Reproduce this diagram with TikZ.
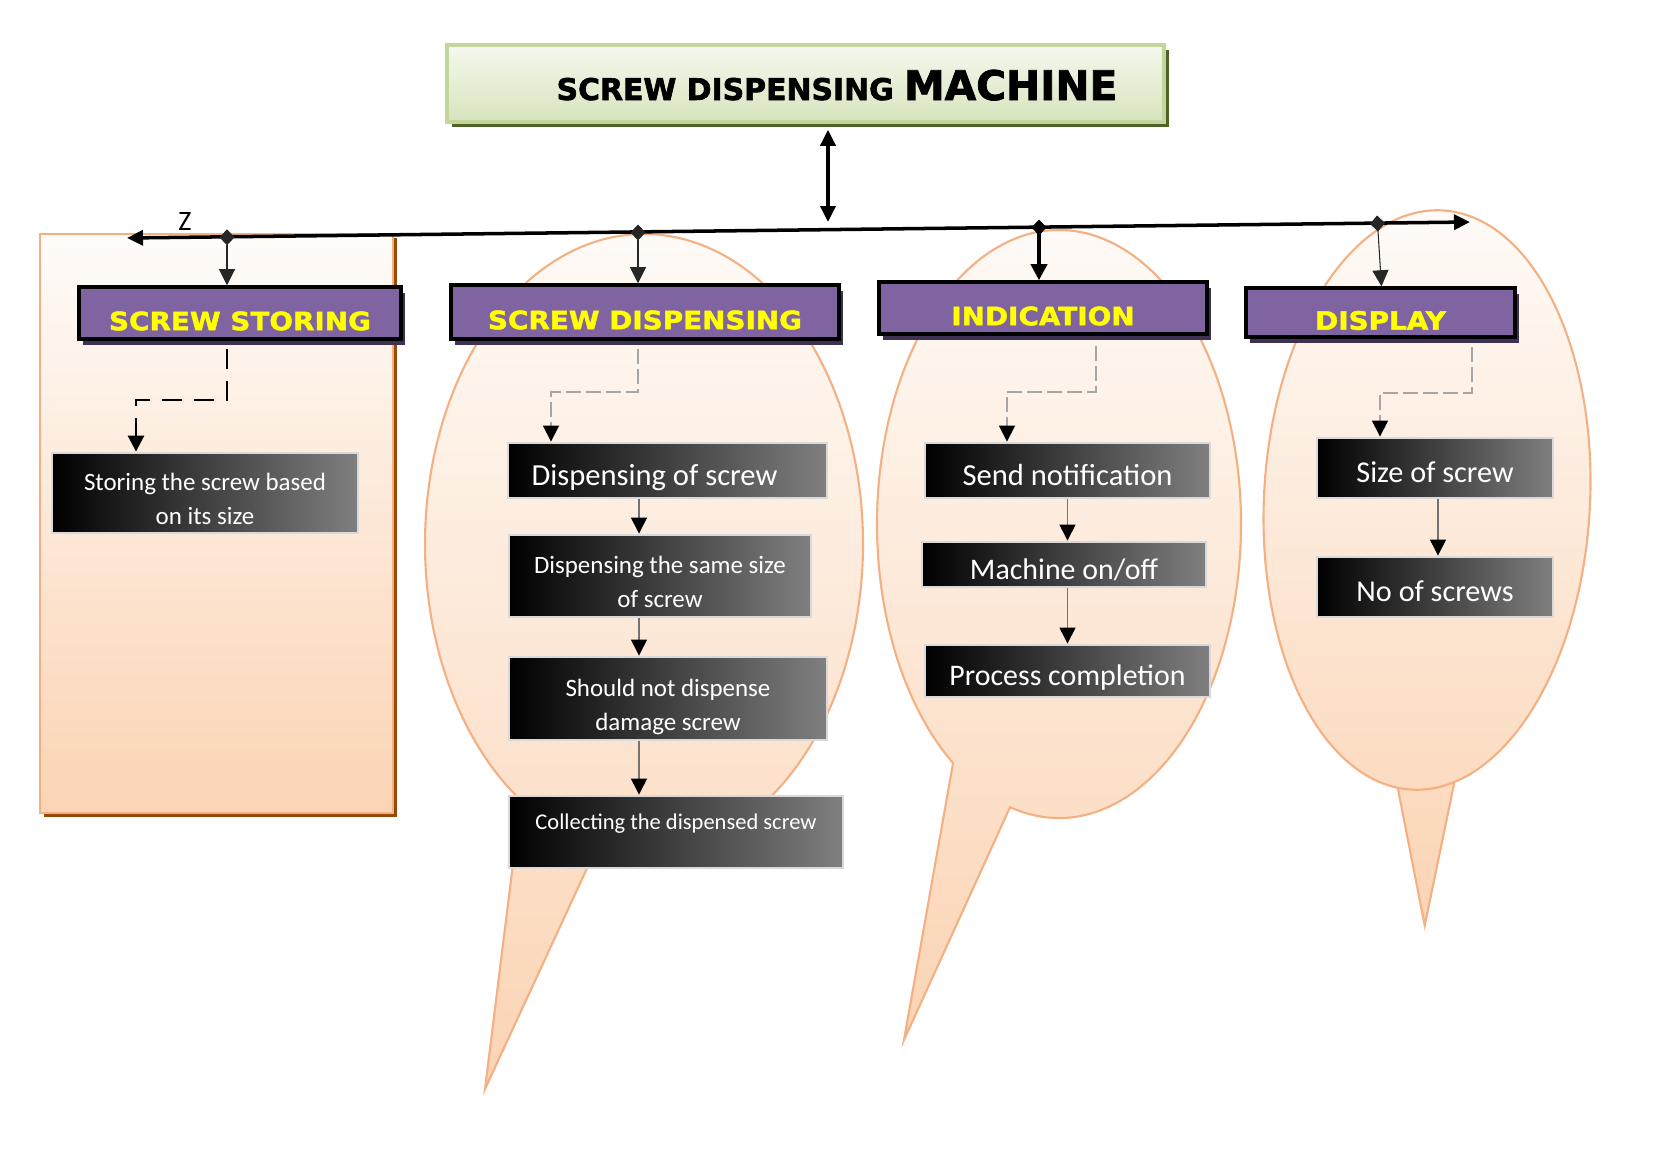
\documentclass[tikz,border=0pt]{standalone}
\usepackage{fontspec}
\setmainfont{Carlito}
\newfontfamily\bannerfont[FakeBold=2]{DejaVu Sans}
\newfontfamily\branchfont[FakeStretch=1.1,FakeBold=1.8]{DejaVu Sans}
\usepackage{tikz}
\usetikzlibrary{arrows.meta,positioning,calc,shadows}
\definecolor{sdgreen}{RGB}{215,228,189}
\definecolor{sdgreenline}{RGB}{195,214,155}
\definecolor{sdolive}{RGB}{79,98,40}
\definecolor{sdpurple}{RGB}{128,100,162}
\definecolor{sdpurpledark}{RGB}{63,49,81}
\definecolor{sdyellow}{RGB}{255,255,0}
\definecolor{sdpeach}{RGB}{251,212,180}
\definecolor{sdpeachline}{RGB}{244,176,131}
\definecolor{sdbrown}{RGB}{152,72,7}

\begin{document}
\begin{tikzpicture}[x=1cm,y=1cm,
  banner/.style={draw=sdgreenline,line width=1pt,top color=sdgreen!25,bottom color=sdgreen,
    minimum width=7.17cm,minimum height=.77cm,inner sep=0pt,
    general shadow={fill=sdolive,shadow xshift=.45mm,shadow yshift=-.5mm}},
  branch/.style={draw=black,line width=1pt,fill=sdpurple,text=sdyellow,
    font=\branchfont\bfseries\fontsize{7.2}{8}\selectfont,
    minimum height=.52cm,inner sep=0pt,text height=9.8pt,text depth=0pt,
    general shadow={fill=sdpurpledark,shadow xshift=.4mm,shadow yshift=-.6mm}},
  stepbox/.style={draw=black!15,line width=.8pt,left color=black,right color=black!50,
    text=white,align=center,inner sep=0pt},
  oneline/.style={text height=8.4pt,text depth=0pt},
  twoline/.style={font=\fontsize{7.1}{9.8}\selectfont,text height=18.2pt,text depth=0pt},
  bubble/.style={draw=sdpeachline,line width=.6pt,top color=sdpeach!8,bottom color=sdpeach},
  bus/.style={{Triangle[length=1.6mm,width=1.5mm]}-{Triangle[length=1.6mm,width=1.5mm]},line width=1pt},
  tap/.style={{Diamond[length=1.6mm,width=1.5mm]}-{Triangle[length=1.6mm,width=1.6mm]},line width=.3pt,draw=black!85},
  feed/.style={-{Triangle[length=1.6mm,width=1.6mm,color=black]},line width=.3pt,draw=black!55},
  elbow/.style={-{Triangle[length=1.6mm,width=1.6mm,color=black]},draw=black!35,line width=.35pt,
    dash pattern=on 1.5mm off .5mm}]

\path[use as bounding box] (0,0) rectangle (16.53,-11.69);

% speech bubbles behind the three right columns
\draw[bubble] (6.44,-5.44) ++(257.6:2.19cm and 3.10cm)
  arc[start angle=257.6,end angle=595.8,x radius=2.19cm,y radius=3.10cm] -- (4.85,-10.89) -- cycle;
\draw[bubble] (10.59,-5.24) ++(254.4:1.82cm and 2.94cm)
  arc[start angle=254.4,end angle=594.4,x radius=1.82cm,y radius=2.94cm] -- (9.04,-10.40) -- cycle;
\begin{scope}[rotate around={-3:(14.27,-5.00)}]
\draw[bubble] (14.27,-5.00) ++(265:1.63cm and 2.90cm)
  arc[start angle=265,end angle=645,x radius=1.63cm,y radius=2.90cm] -- (14.47,-9.25) -- cycle;
\end{scope}

% storing panel
\node[draw=sdpeachline,line width=.6pt,top color=sdpeach!8,bottom color=sdpeach,
  minimum width=3.53cm,minimum height=5.79cm,inner sep=0pt,
  general shadow={fill=sdbrown,shadow xshift=.4mm,shadow yshift=-.4mm}] (storepanel) at (2.165,-5.235) {};

% title
\node[banner] (machine) at (8.055,-0.835) {};
\node[anchor=base] (machinetext) at (8.37,-1.00)
  {\bannerfont\bfseries\fontsize{8.5}{9}\selectfont SCREW DISPENSING \fontsize{11.6}{12}\selectfont MACHINE};

% bus line
\coordinate (busW) at (1.27,-2.38);
\coordinate (busE) at (14.70,-2.22);
\draw[bus] (busW) -- (busE);
\coordinate (hub) at (8.28,-2.22);
\draw[bus,shorten <=.6mm] (machine.south -| hub) -- (hub);
\node[font=\fontsize{8}{9}\selectfont] (zmark) at (1.85,-2.21) {Z};

% branch headers
\node[branch,minimum width=3.22cm] (hstore) at (2.40,-3.13) {SCREW STORING};
\node[branch,minimum width=3.88cm,minimum height=.54cm] (hdisp) at (6.45,-3.12) {SCREW DISPENSING};
\node[branch,minimum width=3.28cm] (hind) at (10.43,-3.08) {INDICATION};
\node[branch,minimum width=2.69cm,minimum height=.49cm] (hshow) at (13.805,-3.125) {DISPLAY};

\coordinate (tapStore) at (2.27,-2.293);
\coordinate (tapDisp) at (6.38,-2.245);
\coordinate (tapInd) at (10.39,-2.195);
\coordinate (tapShow) at (13.77,-2.155);
\draw[tap] (tapStore) -- (tapStore |- hstore.north);
\draw[tap] (tapDisp) -- (tapDisp |- hdisp.north);
\draw[tap,line width=1pt,draw=black] (tapInd) -- (tapInd |- hind.north);
\draw[tap] (tapShow) -- ($(hshow.north)+(.01,0)$);

% step boxes
\node[stepbox,twoline,minimum width=3.06cm,minimum height=.80cm] (store) at (2.05,-4.93)
  {Storing the screw based\\on its size};
\node[stepbox,oneline,minimum width=3.19cm,minimum height=.55cm,font=\fontsize{8.7}{10}\selectfont] (dispA) at (6.675,-4.705)
  {\hspace*{-2.6mm}Dispensing of screw};
\node[stepbox,twoline,minimum width=3.02cm,minimum height=.82cm] (dispB) at (6.60,-5.76)
  {Dispensing the same size\\of screw};
\node[stepbox,twoline,minimum width=3.18cm,minimum height=.83cm] (dispC) at (6.68,-6.985)
  {Should not dispense\\damage screw};
\node[stepbox,minimum width=3.34cm,minimum height=.72cm,font=\fontsize{6.4}{8}\selectfont,
  text height=4.6pt,text depth=6pt] (dispD) at (6.76,-8.32) {Collecting the dispensed screw};
\node[stepbox,oneline,minimum width=2.85cm,minimum height=.55cm,font=\fontsize{8.7}{10}\selectfont] (indA) at (10.675,-4.705)
  {Send notification};
\node[stepbox,oneline,minimum width=2.84cm,minimum height=.45cm,font=\fontsize{8.5}{10}\selectfont] (indB) at (10.64,-5.645)
  {Machine on/off};
\node[stepbox,oneline,minimum width=2.85cm,minimum height=.52cm,font=\fontsize{8.5}{10}\selectfont] (indC) at (10.675,-6.71)
  {Process completion};
\node[stepbox,oneline,minimum width=2.36cm,minimum height=.60cm,font=\fontsize{8.6}{10}\selectfont] (showA) at (14.35,-4.68)
  {Size of screw};
\node[stepbox,oneline,minimum width=2.36cm,minimum height=.60cm,font=\fontsize{8.6}{10}\selectfont] (showB) at (14.35,-5.87)
  {No of screws};

% dashed elbows from headers
\coordinate (storeKnee) at (1.36,-4.00);
\coordinate (dispKnee) at (5.51,-3.92);
\coordinate (indKnee) at (10.07,-3.92);
\coordinate (showKnee) at (13.80,-3.93);
\draw[elbow,draw=black,line width=.8pt,dash pattern=on 2mm off 1.2mm]
  ($(hstore.south -| tapStore)+(0,-.08)$) |- (storeKnee) -- (store.north -| storeKnee);
\draw[elbow] ($(hdisp.south -| tapDisp)+(0,-.08)$) |- (dispKnee) -- (dispA.north -| dispKnee);
\draw[elbow] ($(hind.south)+(.53,-.1)$) |- (indKnee) -- (indA.north -| indKnee);
\draw[elbow] ($(hshow.south)+(.915,-.08)$) |- (showKnee) -- (showA.north -| showKnee);

% solid feeds
\coordinate (dispLine) at (6.39,0);
\coordinate (indLine) at (10.675,0);
\coordinate (showLine) at (14.38,0);
\draw[feed] (dispA.south -| dispLine) -- (dispB.north -| dispLine);
\draw[feed] (dispB.south -| dispLine) -- (dispC.north -| dispLine);
\draw[feed] (dispC.south -| dispLine) -- (dispD.north -| dispLine);
\draw[feed] (indA.south -| indLine) -- (indB.north -| indLine);
\draw[feed] (indB.south -| indLine) -- (indC.north -| indLine);
\draw[feed] (showA.south -| showLine) -- (showB.north -| showLine);

\end{tikzpicture}
\end{document}
